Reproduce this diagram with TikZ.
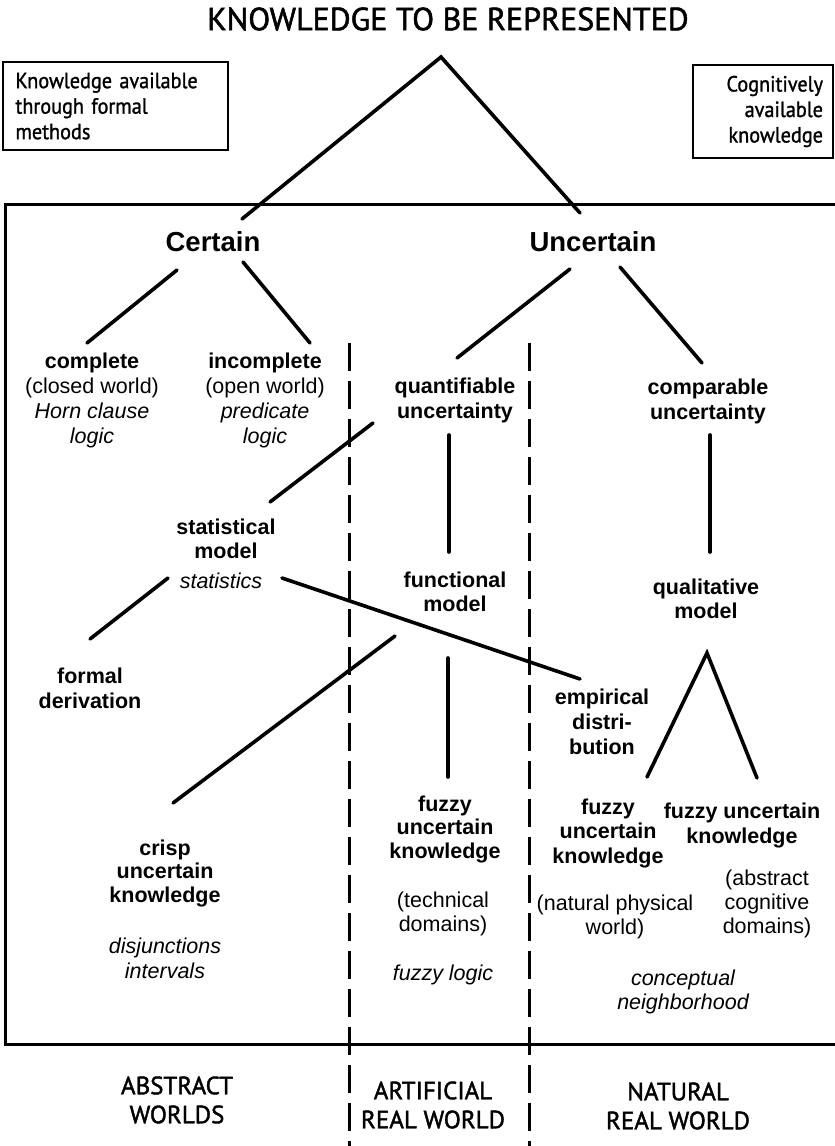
\documentclass[tikz,border=0pt]{standalone}
\usepackage{fontspec}
\setmainfont{Liberation Sans}
\newfontfamily\gill[FakeBold=1.6]{PT Sans}
\newfontfamily\gillnote[FakeBold=1.2, FakeStretch=0.92]{PT Sans}
\begin{document}
\begin{tikzpicture}[x=1pt,y=-1pt,
  tree/.style={line width=3.6pt, line cap=round},
  frameline/.style={line width=3pt},
  divider/.style={line width=3pt, dash pattern=on 28pt off 10pt},
  lbl/.style={align=center, inner sep=0pt, font=\fontsize{21.5}{24}\selectfont},
  lblw/.style={align=center, inner sep=0pt, font=\fontsize{21.5}{25}\selectfont},
  big/.style={inner sep=0pt, font=\bfseries\fontsize{27.5}{30}\selectfont},
  world/.style={align=center, inner sep=0pt, font=\gill\fontsize{25}{29}\selectfont},
  note/.style={draw, line width=2.6pt, inner ysep=0pt, font=\gillnote\fontsize{22}{25.5}\selectfont}]
\useasboundingbox (0,0) rectangle (835,1146);

% heading and side notes
\node[inner sep=0pt, font=\gill\fontsize{32}{32}\selectfont] (title) at (448,19) {KNOWLEDGE TO BE REPRESENTED};
\node[note, minimum width=225pt, minimum height=88pt, text width=200pt, align=left] (formal) at (115.5,106)
  {Knowledge available\\through formal\\methods};
\node[note, minimum width=140pt, minimum height=93pt, text width=120pt, align=right] (cognitive) at (763,111.5)
  {Cognitively\\available\\knowledge};

% main frame, open on the right
\draw[frameline] (835,204) -- (5,204) -- (5,1044) -- (835,1044);

% world dividers
\coordinate (d1t) at (349,343); \coordinate (d1b) at (349,1146);
\coordinate (d2t) at (529,343); \coordinate (d2b) at (529,1146);
\draw[divider] (d1t) -- (d1b);
\draw[divider] (d2t) -- (d2b);

% top split
\coordinate (apex) at (441,57);
\coordinate (apexL) at (242,219);
\coordinate (apexR) at (580,213);
\draw[tree] (apexL) -- (apex) -- (apexR);

\node[big] (certain) at (213,242) {Certain};
\node[big] (uncertain) at (593,242) {Uncertain};

\node[lblw] (complete) at (92,400)
  {\textbf{complete}\\(closed world)\\\textit{Horn clause}\\\textit{logic}};
\node[lblw] (incomplete) at (265,400)
  {\textbf{incomplete}\\(open world)\\\textit{predicate}\\\textit{logic}};
\node[lbl, font=\bfseries\fontsize{21.5}{25}\selectfont] (quant) at (455,400) {quantifiable\\uncertainty};
\node[lbl, font=\bfseries\fontsize{21.5}{25}\selectfont] (comp) at (708,401) {comparable\\uncertainty};

\node[lbl, font=\bfseries\fontsize{21.5}{24}\selectfont] (stat) at (226,539) {statistical\\model};
\node[lbl, font=\itshape\fontsize{21.5}{24}\selectfont] (statistics) at (221,581) {statistics};
\node[lbl, font=\bfseries\fontsize{21.5}{23.5}\selectfont] (func) at (455,592) {functional\\model};
\node[lbl, font=\bfseries\fontsize{21.5}{24}\selectfont] (qual) at (706,599) {qualitative\\model};

\node[lbl, font=\bfseries\fontsize{21.5}{25}\selectfont] (formalder) at (90,688) {formal\\derivation};
\node[lbl, font=\bfseries\fontsize{21.5}{25}\selectfont] (empirical) at (602,722) {empirical\\distri-\\bution};

\node[lbl, font=\bfseries\fontsize{21.5}{23.5}\selectfont] (crisp) at (165,873) {crisp\\uncertain\\knowledge};
\node[lbl, font=\itshape\fontsize{21.5}{25}\selectfont] (disj) at (165,958) {disjunctions\\intervals};

\node[lbl, font=\bfseries\fontsize{21.5}{23.5}\selectfont] (fuzzyA) at (445,829) {fuzzy\\uncertain\\knowledge};
\node[lbl] (technical) at (443,914) {(technical\\domains)};
\node[lbl, font=\itshape\fontsize{21.5}{24}\selectfont] (fuzzylogic) at (443,975) {fuzzy logic};

\node[lbl, font=\bfseries\fontsize{21.5}{24.5}\selectfont] (fuzzyB) at (608,833) {fuzzy\\uncertain\\knowledge};
\node[lbl, font=\bfseries\fontsize{21.5}{25}\selectfont] (fuzzyC) at (742,825) {fuzzy uncertain\\knowledge};
\node[lbl] (physical) at (615,917) {(natural physical\\world)};
\node[lbl] (abstractdom) at (767,904) {(abstract\\cognitive\\domains)};
\node[lbl, font=\itshape\fontsize{21.5}{23.5}\selectfont] (concept) at (683,992) {conceptual\\neighborhood};

% world names
\node[world] (abstractw) at (177,1100) {ABSTRACT\\WORLDS};
\node[world] (artificial) at (433,1105) {ARTIFICIAL\\REAL WORLD};
\node[world] (natural) at (678,1106) {NATURAL\\REAL WORLD};

% branch ends
\coordinate (certainL) at (177,270);  \coordinate (completeT) at (87,343);
\coordinate (certainR) at (243,262);  \coordinate (incompleteT) at (310,343);
\coordinate (uncertainL) at (570,269); \coordinate (quantT) at (457,358);
\coordinate (uncertainR) at (620,267); \coordinate (compT) at (702,363);
\coordinate (quantL) at (373,423);    \coordinate (statT) at (270,502);
\coordinate (quantB) at (449,435);    \coordinate (funcT) at (449,552);
\coordinate (compB) at (710,435);     \coordinate (qualT) at (710,552);
\coordinate (statL) at (168,578);     \coordinate (formalT) at (90,639);
\coordinate (statR) at (282,578);     \coordinate (empiricalT) at (580,679);
\coordinate (funcL) at (395,636);     \coordinate (crispT) at (173,803);
\coordinate (funcB) at (448,658);     \coordinate (fuzzyAT) at (448,777);
\coordinate (qualB) at (707,653);
\coordinate (fuzzyBT) at (647,777);   \coordinate (fuzzyCT) at (757,778);

\draw[tree] (certainL) -- (completeT);
\draw[tree] (certainR) -- (incompleteT);
\draw[tree] (uncertainL) -- (quantT);
\draw[tree] (uncertainR) -- (compT);
\draw[tree] (quantL) -- (statT);
\draw[tree] (quantB) -- (funcT);
\draw[tree] (compB) -- (qualT);
\draw[tree] (statL) -- (formalT);
\draw[tree] (statR) -- (empiricalT);
\draw[tree] (funcL) -- (crispT);
\draw[tree] (funcB) -- (fuzzyAT);
\draw[tree] (fuzzyBT) -- (qualB) -- (fuzzyCT);
\end{tikzpicture}
\end{document}
